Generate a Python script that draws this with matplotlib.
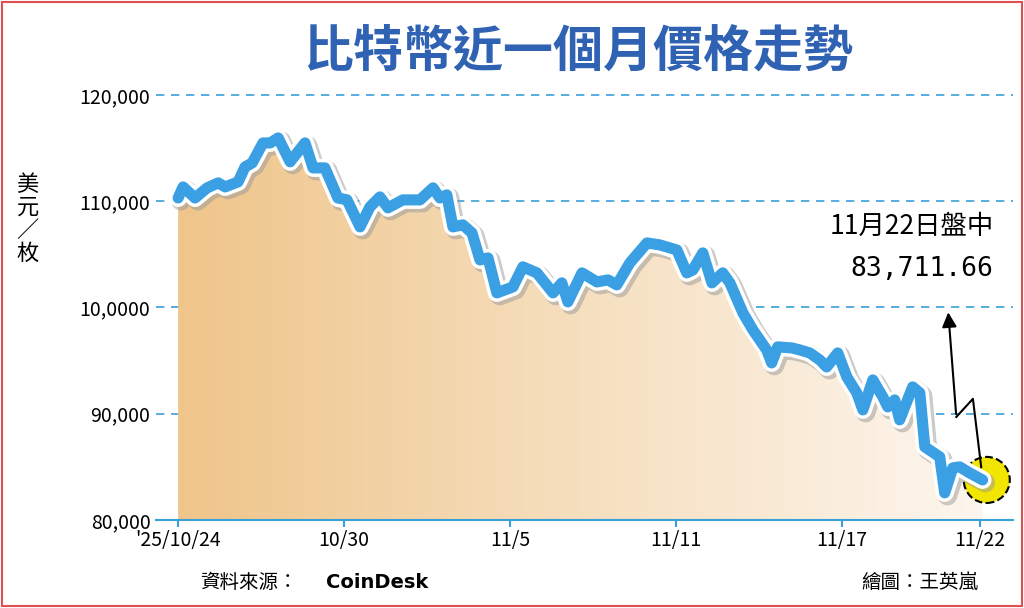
import matplotlib
matplotlib.use("Agg")
import matplotlib.pyplot as plt
import matplotlib.patheffects as pe
import numpy as np
from matplotlib.patches import Rectangle
from matplotlib.colors import LinearSegmentedColormap

plt.rcParams['font.family'] = ['Noto Sans CJK TC', 'DejaVu Sans']

days = [0.0,0.18,0.61,1.05,1.45,1.70,2.17,2.42,2.68,3.07,3.33,3.62,4.05,4.59,4.88,5.31,5.78,6.11,6.58,6.94,
        7.30,7.59,8.13,8.75,9.22,9.47,9.72,9.94,10.30,10.63,10.92,11.21,11.53,12.11,12.47,12.98,13.56,13.88,14.10,14.61,
        15.15,15.55,15.87,16.34,16.96,17.43,18.04,18.40,18.62,18.98,19.31,19.70,19.96,20.43,20.79,21.29,21.47,21.69,22.20,22.49,
        22.85,23.21,23.46,23.86,24.19,24.55,24.77,25.13,25.49,25.67,25.92,26.10,26.57,26.83,27.01,27.55,27.73,28.02,28.27,28.63,29.10]
prices = [110300,111340,110300,111250,111720,111340,111810,113220,113600,115480,115480,115950,113700,115480,113130,113130,110300,110120,107580,109460,
          110400,109370,110120,110120,111250,110300,110590,107580,107770,107010,104470,104660,101370,101930,103820,103250,101370,102310,100520,103250,
          102400,102590,102120,104190,106070,105880,105410,103250,103530,105130,102310,103250,102310,99490,97890,96000,94780,96290,96190,96000,
          95720,95060,94400,95720,93460,91960,90360,93180,91580,90640,91300,89420,92520,91960,86880,85940,82550,84900,85000,84430,83770]
x_ticks = [0, 6, 12, 18, 24, 29]
x_labels = ["'25/10/24", "10/30", "11/5", "11/11", "11/17", "11/22"]
y_ticks = [80000, 90000, 100000, 110000, 120000]
y_labels = ["80,000", "90,000", "10,0000", "110,000", "120,000"]

fig = plt.figure(figsize=(10.24, 6.08), dpi=100)
fig.patches.append(Rectangle((0.002, 0.003), 0.996, 0.994, transform=fig.transFigure,
                             fill=False, edgecolor='#e05050', lw=1.5))
ax = fig.add_axes([156/1024, 88/608, 857/1024, 440/608])
ax.set_xlim(-0.8, 30.2)
ax.set_ylim(80000, 121400)

grad = np.linspace(0, 1, 256).reshape(1, -1)
cmap = LinearSegmentedColormap.from_list('g', ['#efc58a', '#f6dfbf', '#fdf6ee'])
im = ax.imshow(grad, extent=[days[0], days[-1], 80000, 121400], aspect='auto', cmap=cmap, zorder=1)
clip = plt.Polygon(list(zip([days[0]] + days + [days[-1]], [80000] + prices + [80000])),
                   transform=ax.transData, facecolor='none', edgecolor='none')
ax.add_patch(clip)
im.set_clip_path(clip)

for v in y_ticks[1:]:
    ax.axhline(v, color='#3aa0d8', lw=1.2, ls=(0, (5, 4)), zorder=0.5)

ax.plot(days, prices, color='#3b9fe3', lw=8, solid_capstyle='round', solid_joinstyle='round', zorder=3,
        path_effects=[pe.SimpleLineShadow(offset=(2, -2), shadow_color='#999999', alpha=0.5, linewidth=14),
                      pe.Stroke(linewidth=13, foreground='white'), pe.Normal()])

ax.scatter([days[-1] + 0.15], [prices[-1]], s=1100, color='#f2e600', edgecolors='black',
           linestyle='--', linewidths=1.5, zorder=2.5)

ax.plot([days[-1] - 0.05, days[-1] - 0.35, days[-1] - 0.95], [prices[-1] + 1200, 91400, 89700],
        color='black', lw=1.5, zorder=4)
ax.annotate('', xy=(days[-1] - 1.25, 99800), xytext=(days[-1] - 0.95, 89700),
            arrowprops=dict(arrowstyle='-|>', color='black', lw=1.5, mutation_scale=22), zorder=4)
ax.text(29.5, 107600, '11月22日盤中', ha='right', va='center', fontsize=19)
ax.text(29.5, 103600, '83,711.66', ha='right', va='center', fontsize=19, family='DejaVu Sans Mono')

for s in ['top', 'right', 'left']:
    ax.spines[s].set_visible(False)
ax.spines['bottom'].set_color('#3aa0d8')
ax.spines['bottom'].set_linewidth(1.5)
ax.set_xticks(x_ticks)
ax.set_xticklabels(x_labels, fontsize=14)
ax.tick_params(axis='x', colors='#3aa0d8', length=5, width=1.5, labelcolor='black', pad=2)
ax.set_yticks(y_ticks)
ax.set_yticklabels(y_labels, fontsize=14)
ax.tick_params(axis='y', length=0, pad=4)

fig.text(0.565, 0.915, '比特幣近一個月價格走勢', ha='center', va='center', fontsize=36,
         fontweight='bold', color='#2f62b3')
fig.text(0.027, 0.64, '美\n元\n／\n枚', ha='center', va='center', fontsize=16, linespacing=1.0)
fig.text(0.195, 0.042, '資料來源：', ha='left', va='center', fontsize=14)
fig.text(0.318, 0.042, 'CoinDesk', ha='left', va='center', fontsize=14, fontweight='bold', family='DejaVu Sans')
fig.text(0.955, 0.042, '繪圖：王英嵐', ha='right', va='center', fontsize=14)

fig.savefig('out.png', dpi=100)
